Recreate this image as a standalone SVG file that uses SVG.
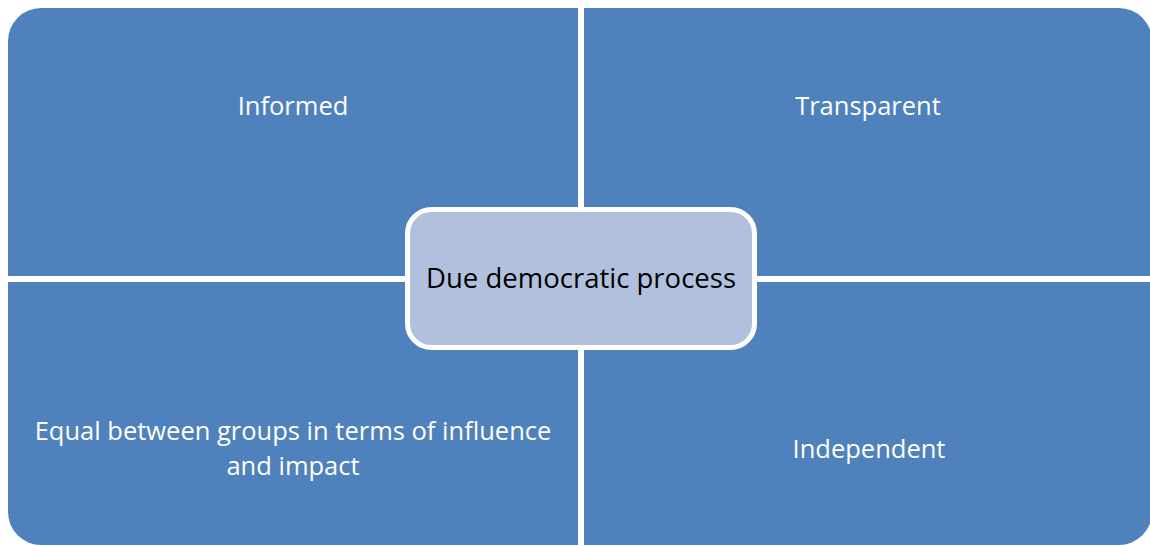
<svg xmlns="http://www.w3.org/2000/svg" width="1150" height="546" viewBox="0 0 1150 546">
<style>
.q{fill:#4F81BD}
.lbl{font-family:"Open Sans","Noto Sans",sans-serif;font-size:25.5px;fill:#FFFFFF;text-anchor:middle}
.ctr{fill:#B1C1DD;stroke:#FFFFFF;stroke-width:5}
.ctxt{font-family:"Open Sans","Noto Sans",sans-serif;font-size:27px;fill:#000000;text-anchor:middle}
</style>
<rect width="1150" height="546" fill="#FFFFFF"/>
<g id="informed">
<path class="q" d="M8,276 V41 A33,33 0 0 1 41,8 H578 V276 Z"/>
<text class="lbl" x="293" y="115">Informed</text>
</g>
<g id="transparent">
<path class="q" d="M584,8 H1119 A33,33 0 0 1 1152,41 V276 H584 Z"/>
<text class="lbl" x="868" y="115">Transparent</text>
</g>
<g id="equal">
<path class="q" d="M8,282 H578 V545 H41 A33,33 0 0 1 8,512 Z"/>
<text class="lbl" x="293" y="440"><tspan x="293" y="440">Equal between groups in terms of influence</tspan><tspan x="293" y="475">and impact</tspan></text>
</g>
<g id="independent">
<path class="q" d="M584,282 H1152 V512 A33,33 0 0 1 1119,545 H584 Z"/>
<text class="lbl" x="869" y="458">Independent</text>
</g>
<g id="connectors"></g>
<g id="center">
<rect class="ctr" x="407.5" y="209.5" width="347" height="138" rx="24" ry="24"/>
<text class="ctxt" x="581" y="288" textLength="310" lengthAdjust="spacingAndGlyphs">Due democratic process</text>
</g>
</svg>
